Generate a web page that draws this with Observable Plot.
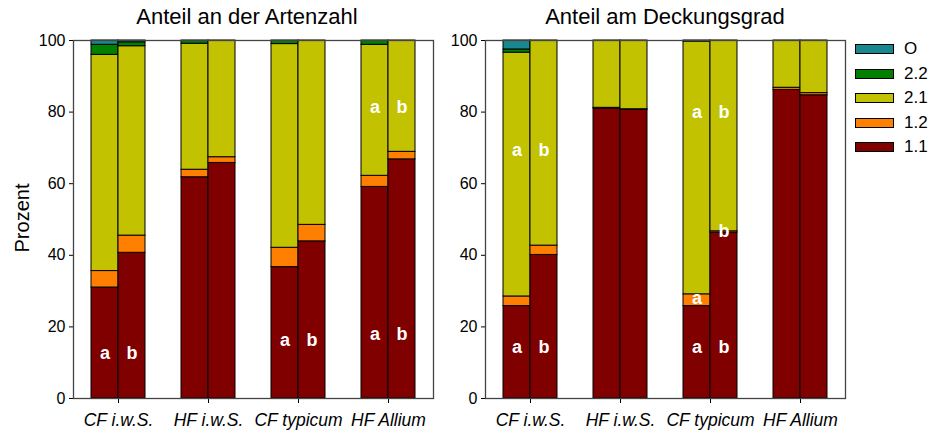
<!DOCTYPE html>
<html>
<head>
<meta charset="utf-8">
<script src="https://cdn.jsdelivr.net/npm/d3@7"></script>
<script src="https://cdn.jsdelivr.net/npm/@observablehq/plot@0.6"></script>
<style>
  html, body { margin: 0; padding: 0; background: #fff; }
  #chart { position: relative; width: 929px; height: 430px; font-family: "Liberation Sans", Arial, sans-serif; color: #000; }
  #chart svg { position: absolute; top: 0; overflow: visible; }
  [aria-label^="x-axis"] text { font-style: italic; font-size: 17.5px; }
  .title { position: absolute; top: 4px; font-size: 22px; transform: translateX(-50%); white-space: nowrap; }
  .ylab { position: absolute; left: 22px; top: 218px; font-size: 20px; transform: translate(-50%, -50%) rotate(-90deg); white-space: nowrap; }
  .legend { position: absolute; left: 855px; top: 37px; font-size: 17px; }
  .legend .row { display: flex; align-items: center; height: 24.5px; }
  .legend .sw { width: 37px; height: 8px; border: 1px solid #000; margin-right: 10px; }
</style>
</head>
<body>
<div id="chart"></div>
<script>
// Site groups and the two bars (a, b) drawn for each
const groups = ["CF i.w.S.", "HF i.w.S.", "CF typicum", "HF Allium"];
const bars = ["a", "b"];
// Stacking order, bottom to top
const classes = ["1.1", "1.2", "2.1", "2.2", "O"];
const classColors = ["#800000", "#ff8000", "#c2c200", "#008000", "#18878f"];
const yTicks = [0, 20, 40, 60, 80, 100];

// Share of species number (%), one value per bar: CF a, CF b, HF a, HF b, ...
const arten11 = [31.0, 40.7, 61.8, 65.8, 36.7, 43.9, 59.1, 66.8];
const arten12 = [4.6, 4.8, 2.1, 1.6, 5.4, 4.6, 3.1, 2.1];
const arten21 = [60.4, 52.9, 35.2, 32.6, 56.9, 51.5, 36.6, 31.1];
const arten22 = [2.8, 1.1, 0.9, 0, 1.0, 0, 1.2, 0];
const artenO  = [1.2, 0.5, 0, 0, 0, 0, 0, 0];

// Share of cover (%)
const deck11 = [25.8, 40.1, 81.0, 80.6, 25.8, 46.3, 86.2, 84.7];
const deck12 = [2.7, 2.6, 0.2, 0.2, 3.3, 0.4, 0.6, 0.6];
const deck21 = [68.1, 57.3, 18.8, 19.2, 70.6, 53.3, 13.2, 14.7];
const deck22 = [0.9, 0, 0, 0, 0.3, 0, 0, 0];
const deckO  = [2.5, 0, 0, 0, 0, 0, 0, 0];

// Significance letters: group index, bar index, height (%), letter
const artenLetters = [
  [0, 0, 12.6, "a"], [0, 1, 12.6, "b"],
  [2, 0, 16.2, "a"], [2, 1, 16.2, "b"],
  [3, 0, 17.9, "a"], [3, 1, 17.9, "b"],
  [3, 0, 81.3, "a"], [3, 1, 81.3, "b"]
];
const deckLetters = [
  [0, 0, 14.2, "a"], [0, 1, 14.2, "b"],
  [0, 0, 69.3, "a"], [0, 1, 69.3, "b"],
  [2, 0, 14.2, "a"], [2, 1, 14.2, "b"],
  [2, 0, 27.9, "a"], [2, 1, 46.6, "b"],
  [2, 0, 79.9, "a"], [2, 1, 79.9, "b"]
];

// Build stacked segments: x runs 0..4, each group one unit wide,
// two adjacent bars of 0.3 units centred in the unit.
function segments(series) {
  const out = [];
  for (let k = 0; k < series[0].length; k++) {
    const g = Math.floor(k / 2), b = k % 2;
    let base = 0;
    series.forEach((vals, c) => {
      const v = vals[k];
      if (v > 0) {
        out.push({cls: classes[c], x1: g + 0.2 + 0.3 * b, x2: g + 0.5 + 0.3 * b, y1: base, y2: base + v});
      }
      base += v;
    });
  }
  return out;
}
function letterRows(list) {
  return list.map(([g, b, y, t]) => ({x: g + 0.35 + 0.3 * b, y, t}));
}

function panel(series, letters, opts) {
  return Plot.plot({
    width: opts.width,
    height: 430,
    marginLeft: opts.marginLeft,
    marginRight: opts.marginRight,
    marginTop: 40,
    marginBottom: 32,
    style: {fontFamily: "'Liberation Sans', Arial, sans-serif", fontSize: "16px", color: "#000", background: "transparent"},
    x: {domain: [0, 4], ticks: [0.5, 1.5, 2.5, 3.5], tickFormat: (d) => groups[Math.floor(d)], tickSize: 5, tickPadding: 10, label: null},
    y: {domain: [0, 100], ticks: yTicks, tickSize: 4, tickPadding: 4, label: null},
    color: {domain: classes, range: classColors},
    marks: [
      Plot.rect(segments(series), {x1: "x1", x2: "x2", y1: "y1", y2: "y2", fill: "cls", stroke: "#000", strokeWidth: 1}),
      Plot.text(letterRows(letters), {x: "x", y: "y", text: "t", fill: "#fff", fontWeight: "bold", fontSize: 18}),
      Plot.frame({stroke: "#444", strokeWidth: 1.3})
    ]
  });
}

const chart = document.getElementById("chart");
const left = panel([arten11, arten12, arten21, arten22, artenO], artenLetters, {width: 440, marginLeft: 73, marginRight: 7});
left.style.left = "0px";
const right = panel([deck11, deck12, deck21, deck22, deckO], deckLetters, {width: 420, marginLeft: 45, marginRight: 15});
right.style.left = "440px";
chart.append(left, right);

function addText(cls, text, x) {
  const d = document.createElement("div");
  d.className = cls;
  d.textContent = text;
  if (x != null) d.style.left = x + "px";
  chart.append(d);
}
addText("title", "Anteil an der Artenzahl", 247);
addText("title", "Anteil am Deckungsgrad", 665);
addText("ylab", "Prozent");

// Legend, top entry first
const legend = document.createElement("div");
legend.className = "legend";
classes.slice().reverse().forEach((c) => {
  const row = document.createElement("div");
  row.className = "row";
  const sw = document.createElement("div");
  sw.className = "sw";
  sw.style.background = classColors[classes.indexOf(c)];
  const lab = document.createElement("span");
  lab.textContent = c;
  row.append(sw, lab);
  legend.append(row);
});
chart.append(legend);
</script>
</body>
</html>
